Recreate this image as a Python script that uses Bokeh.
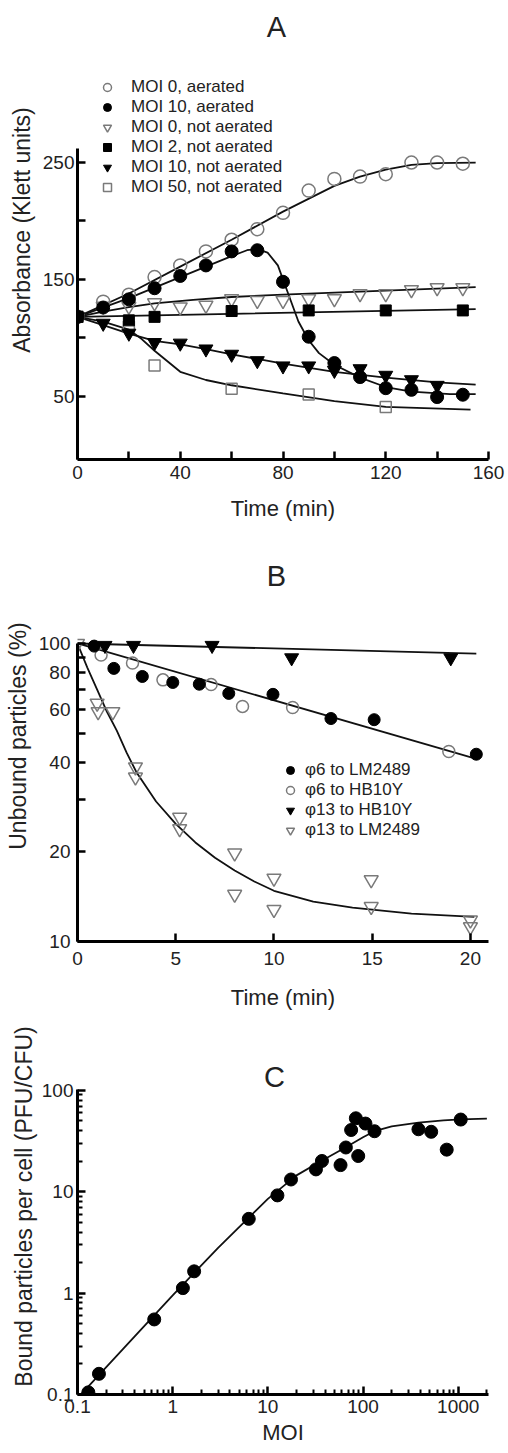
from bokeh.plotting import figure
from bokeh.layouts import column
from bokeh.models import Range1d, FixedTicker, Legend, LegendItem, Label
from bokeh.embed import file_html
from bokeh.resources import INLINE

FONT = "Liberation Sans"
TXT = "#222222"
OPEN = "#7a7a7a"
CURVE = "#111111"

# ---------------- Panel A : absorbance vs time ----------------
a_time = [0, 10, 20, 30, 40, 50, 60, 70, 80, 90, 100, 110, 120, 130, 140, 150]
a_moi0_aer = [118, 131, 137, 152, 162, 174, 184, 193, 207, 226, 236, 238, 240, 250, 250, 249]
a_moi10_aer = [118, 126, 133, 142.5, 153, 162, 174, 175, 148, 101, 78.5, 66.5, 57, 55.6, 49.4, 51.4]
a_moi0_not = [118, 127, 127, 130, 126.5, 128, 133.5, 132, 132, 133.5, 133.5, 137.8, 137.8, 141.2, 142.9, 142.9]
a_time_moi2 = [0, 20, 30, 60, 90, 120, 150]
a_moi2_not = [118, 115, 118, 123, 123.5, 123.5, 123.5]
a_time_moi10n = [0, 10, 20, 30, 40, 50, 60, 70, 80, 90, 100, 110, 120, 130, 140]
a_moi10_not = [118, 112.5, 104, 96, 95.5, 90.5, 86, 80.5, 76, 76, 72.2, 73.6, 68, 64.2, 59.4]
a_time_moi50 = [0, 20, 30, 60, 90, 120]
a_moi50_not = [118, 109.5, 76.5, 56.6, 51.7, 40.9]

# fitted curves
fa1_t = [0, 20, 40, 60, 80, 100, 110, 120, 130, 140, 155]
fa1_y = [118, 138, 161, 184, 208, 230, 238, 244, 248, 249.5, 250]
fa2_t = [0, 20, 40, 60, 66, 70, 74, 78, 82, 86, 90, 94, 100, 110, 120, 130, 145, 155]
fa2_y = [118, 134, 152, 170, 175, 176, 173, 162, 138, 114, 98, 87, 77, 66, 58, 54, 52, 52]
fa3_t = [0, 10, 20, 30, 45, 60, 80, 100, 120, 155]
fa3_y = [118, 122.5, 126.3, 129.5, 132.5, 135, 137, 138.8, 140.5, 143.5]
fa4_t = [0, 60, 155]
fa4_y = [118, 120.6, 124.6]
fa5_t = [0, 10, 20, 30, 40, 50, 60, 70, 80, 100, 120, 140, 155]
fa5_y = [118, 111, 103.7, 97.5, 94.5, 90.5, 86, 82, 78, 71, 66, 62, 60]
fa6_t = [0, 10, 20, 25, 30, 35, 40, 50, 60, 80, 100, 120, 153]
fa6_y = [118, 114, 107, 99, 89, 80, 71, 64, 59.5, 52.5, 46, 41, 38.6]

a_x_ticks = [0, 20, 40, 60, 80, 100, 120, 140, 160]
a_x_labels = ["0", "", "40", "", "80", "", "120", "", "160"]
a_y_ticks = [50, 100, 150, 200, 250]
a_y_labels = ["50", "", "150", "", "250"]
a_legend = ["MOI 0, aerated", "MOI 10, aerated", "MOI 0, not aerated",
            "MOI 2, not aerated", "MOI 10, not aerated", "MOI 50, not aerated"]

# ---------------- Panel B : unbound particles ----------------
b6_lm_t = [0.85, 1.85, 3.3, 4.85, 6.2, 7.7, 9.95, 12.9, 15.1, 20.3]
b6_lm_y = [98, 82.5, 77.5, 74, 73, 68, 67.5, 56, 55.5, 42.5]
b6_hb_t = [1.2, 2.8, 4.35, 6.8, 8.4, 10.95, 18.9]
b6_hb_y = [91.5, 86, 75.5, 72.8, 61.5, 61, 43.4]
b13_hb_t = [1.4, 2.85, 6.85, 10.9, 19.0]
b13_hb_y = [98.5, 98.5, 98.5, 89.5, 89.5]
b13_lm_t = [0, 1.0, 1.05, 1.8, 2.95, 2.95, 5.2, 5.2, 8.0, 8.0, 10.0, 10.0, 14.95, 14.95, 20.0, 20.0]
b13_lm_y = [100, 63, 59, 59, 38.5, 35.6, 26.1, 23.9, 19.8, 14.4, 16.3, 12.8, 16.1, 13.1, 11.8, 11.2]

fb6_t = [0, 20.3]
fb6_y = [100, 41]
fb13hb_t = [0, 20.3]
fb13hb_y = [100, 92.5]
fb13lm_t = [0, 0.5, 1, 1.5, 2, 2.5, 3, 4, 5, 6, 7, 8, 9, 10, 12, 14, 17, 20.2]
fb13lm_y = [100, 83, 70, 59, 51, 43, 37, 29.5, 24.8, 21.5, 19.1, 17.3, 15.9, 14.8, 13.6, 13.0, 12.4, 12.1]

b_x_ticks = [0, 5, 10, 15, 20]
b_x_labels = ["0", "5", "10", "15", "20"]
b_y_ticks = [10, 20, 30, 40, 50, 60, 70, 80, 90, 100]
b_y_labels = ["10", "20", "", "40", "", "60", "", "80", "", "100"]
b_legend = ["\u03c66 to LM2489", "\u03c66 to HB10Y", "\u03c613 to HB10Y", "\u03c613 to LM2489"]

# ---------------- Panel C : bound particles vs MOI ----------------
c_moi = [0.13, 0.168, 0.64, 1.28, 1.68, 6.3, 12.6, 17.5, 32, 37, 58, 66, 75, 84, 89, 106, 132, 382, 520, 757, 1063]
c_bound = [0.105, 0.16, 0.55, 1.12, 1.64, 5.4, 9.2, 13.2, 16.6, 20.1, 18.3, 27.3, 40.6, 53, 22.5, 47, 39.5, 41.3, 39, 26, 51.5]
fc_moi = [0.1, 0.3, 1, 3, 6, 10, 20, 36, 66, 100, 132, 200, 382, 700, 1063, 2000]
fc_bound = [0.092, 0.28, 0.95, 2.8, 5.3, 8.5, 14.5, 20, 27.5, 34.5, 39.5, 44, 48, 50.5, 51.6, 52.6]

c_x_ticks = [0.1, 1, 10, 100, 1000]
c_x_labels = ["0.1", "1", "10", "100", "1000"]
c_y_ticks = [0.1, 1, 10, 100]
c_y_labels = ["0.1", "1", "10", "100"]
c_minor_x = [m * d for d in (0.1, 1, 10, 100, 1000) for m in range(2, 10)]
c_minor_y = [m * d for d in (0.1, 1, 10) for m in range(2, 10)]


def style(p, xlabel, ylabel, xticks, xlabels, yticks, ylabels, ybounds,
          x_std, y_std, xminor=None, yminor=None):
    p.outline_line_color = None
    p.grid.visible = False
    p.background_fill_color = "white"
    p.border_fill_color = "white"
    xa, ya = p.xaxis[0], p.yaxis[0]
    xa.ticker = FixedTicker(ticks=xticks, minor_ticks=xminor or [])
    ya.ticker = FixedTicker(ticks=yticks, minor_ticks=yminor or [])
    xa.major_label_overrides = dict(zip(xticks, xlabels))
    ya.major_label_overrides = dict(zip(yticks, ylabels))
    ya.bounds = ybounds
    xa.axis_label = xlabel
    ya.axis_label = ylabel
    xa.major_label_standoff, xa.axis_label_standoff = x_std
    ya.major_label_standoff, ya.axis_label_standoff = y_std
    xa.axis_label_text_font_size = "22px"
    ya.axis_label_text_font_size = "23px"
    for ax in (xa, ya):
        ax.axis_line_width = 3
        ax.axis_line_color = "black"
        ax.major_tick_in = 8
        ax.major_tick_out = 0
        ax.major_tick_line_width = 2.5
        ax.minor_tick_in = 5
        ax.minor_tick_out = 0
        ax.minor_tick_line_width = 2
        ax.major_label_text_font = FONT
        ax.major_label_text_font_size = "19px"
        ax.major_label_text_color = TXT
        ax.axis_label_text_font = FONT
        ax.axis_label_text_font_style = "normal"
        ax.axis_label_text_color = TXT


def title_label(p, text, x, y):
    p.add_layout(Label(x=x, y=y, x_units="screen", y_units="screen", text=text,
                       text_align="center", text_baseline="alphabetic",
                       text_font=FONT, text_font_size="29px", text_color=TXT))


def make_legend(items, loc, standoff):
    return Legend(items=items, location=loc, orientation="vertical",
                  glyph_width=20, glyph_height=20, spacing=0, padding=0, margin=0,
                  label_standoff=standoff, label_height=20,
                  label_text_font=FONT, label_text_font_size="17px", label_text_color=TXT,
                  border_line_color=None, background_fill_alpha=0)


# ---------- Figure A ----------
pA = figure(width=508, height=530, title=None, x_range=Range1d(0, 160), y_range=Range1d(-4, 388.6),
            output_backend="svg", toolbar_location=None,
            min_border_left=77, min_border_right=18, min_border_top=0, min_border_bottom=71)
style(pA, "Time (min)", "Absorbance (Klett units)", a_x_ticks, a_x_labels, a_y_ticks, a_y_labels,
      (-4, 262), x_std=(6, 14), y_std=(3, 5))
for tt, yy in [(fa1_t, fa1_y), (fa2_t, fa2_y), (fa3_t, fa3_y), (fa4_t, fa4_y), (fa5_t, fa5_y), (fa6_t, fa6_y)]:
    pA.line(tt, yy, line_color=CURVE, line_width=1.8)
rA3 = pA.scatter(a_time, a_moi0_not, marker="inverted_triangle", size=14, fill_color=None, line_color=OPEN, line_width=1.5)
rA6 = pA.scatter(a_time_moi50, a_moi50_not, marker="square", size=11, fill_color=None, line_color=OPEN, line_width=1.5)
rA1 = pA.scatter(a_time, a_moi0_aer, marker="circle", size=13, fill_color=None, line_color=OPEN, line_width=1.5)
rA4 = pA.scatter(a_time_moi2, a_moi2_not, marker="square", size=11, color="black")
rA5 = pA.scatter(a_time_moi10n, a_moi10_not, marker="inverted_triangle", size=14, color="black")
rA2 = pA.scatter(a_time, a_moi10_aer, marker="circle", size=13, color="black")
legA = make_legend([LegendItem(label=lab, renderers=[r]) for lab, r in
                    zip(a_legend, [rA1, rA2, rA3, rA4, rA5, rA6])], (20, 262), 14)
pA.add_layout(legA)
title_label(pA, "A", 199, 432.7)

# ---------- Figure B ----------
pB = figure(width=508, height=488, title=None, x_range=Range1d(0, 20.92), y_range=Range1d(10, 239.4),
            y_axis_type="log", output_backend="svg", toolbar_location=None,
            min_border_left=77, min_border_right=20, min_border_top=0, min_border_bottom=77)
style(pB, "Time (min)", "Unbound particles (%)", b_x_ticks, b_x_labels, b_y_ticks, b_y_labels,
      (10, 100), x_std=(10, 17), y_std=(7, 5))
for tt, yy in [(fb6_t, fb6_y), (fb13hb_t, fb13hb_y), (fb13lm_t, fb13lm_y)]:
    pB.line(tt, yy, line_color=CURVE, line_width=1.8)
rB4 = pB.scatter(b13_lm_t, b13_lm_y, marker="inverted_triangle", size=14, fill_color=None, line_color=OPEN, line_width=1.5)
rB2 = pB.scatter(b6_hb_t, b6_hb_y, marker="circle", size=12, fill_color=None, line_color=OPEN, line_width=1.5)
rB1 = pB.scatter(b6_lm_t, b6_lm_y, marker="circle", size=12, color="black")
rB3 = pB.scatter(b13_hb_t, b13_hb_y, marker="inverted_triangle", size=14, color="black")
legB = make_legend([LegendItem(label=lab, renderers=[r]) for lab, r in
                    zip(b_legend, [rB1, rB2, rB3, rB4])], (203, 101), 5)
pB.add_layout(legB)
title_label(pB, "B", 199, 365.2)

# ---------- Figure C ----------
pC = figure(width=508, height=435, title=None, x_range=Range1d(0.1, 2080), y_range=Range1d(0.1, 511),
            x_axis_type="log", y_axis_type="log", output_backend="svg", toolbar_location=None,
            min_border_left=77, min_border_right=3, min_border_top=0, min_border_bottom=59)
style(pC, "MOI", "Bound particles per cell (PFU/CFU)", c_x_ticks, c_x_labels, c_y_ticks, c_y_labels,
      (0.1, 102), x_std=(5, 4), y_std=(4, 2), xminor=c_minor_x, yminor=c_minor_y)
pC.line(fc_moi, fc_bound, line_color=CURVE, line_width=1.8)
pC.scatter(c_moi, c_bound, marker="circle", size=13, color="black")
title_label(pC, "C", 197, 317.5)

layout = column(pA, pB, pC, spacing=0)
open("out.html", "w").write(file_html(layout, INLINE))
